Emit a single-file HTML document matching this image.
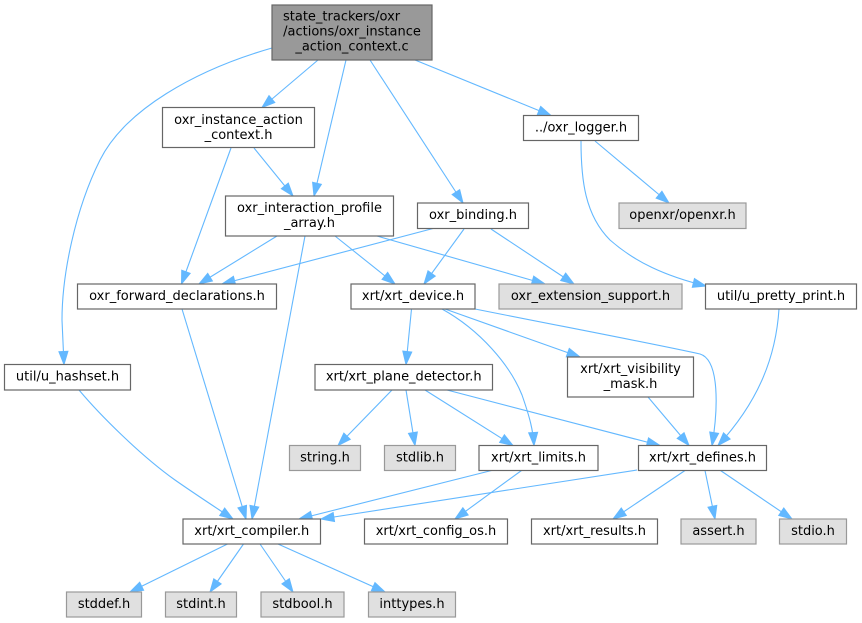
<!DOCTYPE html>
<html>
<head>
<meta charset="utf-8">
<style>
html,body{margin:0;padding:0;background:#fff;}
svg{display:block;}
text{font-family:"DejaVu Sans","Liberation Sans",sans-serif;font-size:13px;fill:#000;}
.e{fill:none;stroke:#63b8ff;stroke-width:1.1;marker-end:url(#ah);}
.w{fill:#fff;stroke:#666;stroke-width:1.2;}
.g{fill:#e0e0e0;stroke:#999;stroke-width:1.2;}
.r{fill:#999;stroke:#666;stroke-width:1.2;}
</style>
</head>
<body>
<svg width="862" height="623" viewBox="0 0 862 623" xmlns="http://www.w3.org/2000/svg">
<defs>
<marker id="ah" markerUnits="userSpaceOnUse" markerWidth="13" markerHeight="9" refX="13" refY="4.5" orient="auto" overflow="visible">
<path d="M0,0 L13,4.5 L0,9 z" fill="#63b8ff" stroke="#63b8ff" stroke-width="1"/>
</marker>
</defs>

<!-- edges -->
<path class="e" d="M318,60 L262,107.5"/>
<path class="e" d="M346,60 L314,196"/>
<path class="e" d="M370,60 L463,203"/>
<path class="e" d="M415,60 L551,115.5"/>
<path class="e" d="M272,48 C195,70 125,110 100,160 C75,210 62,275 62,320 L64,364.5"/>
<path class="e" d="M254,148 L293,196"/>
<path class="e" d="M231,148 L181.5,284"/>
<path class="e" d="M277,236 L199,284"/>
<path class="e" d="M335,236 L395,284"/>
<path class="e" d="M377,236 L545,284"/>
<path class="e" d="M305,236 L252,519"/>
<path class="e" d="M433,228.5 L222,284"/>
<path class="e" d="M464,229 L424,284"/>
<path class="e" d="M491,229 L574,284"/>
<path class="e" d="M595,141 L669,203"/>
<path class="e" d="M581,141 C581,180 585,215 610,240 C635,262 665,276 706,286"/>
<path class="e" d="M182,309 L246,519"/>
<path class="e" d="M79,390 C100,415 140,455 175,480 C195,494 215,507 233,519"/>
<path class="e" d="M411.5,309 L406,364.5"/>
<path class="e" d="M442,309 C480,330 510,365 522,395 C530,418 533,430 534,445.5"/>
<path class="e" d="M445,309 L580,357"/>
<path class="e" d="M475,309 C560,326 650,343 700,354 C720,360 718,410 712,445.5"/>
<path class="e" d="M779,309 C776,355 760,400 718,445.5"/>
<path class="e" d="M648,397 L689,445.5"/>
<path class="e" d="M392,390 L338,445.5"/>
<path class="e" d="M406,390 L415,445.5"/>
<path class="e" d="M425,390 L513,445.5"/>
<path class="e" d="M447,390 L660,445.5"/>
<path class="e" d="M491.5,470.5 L299,519"/>
<path class="e" d="M521.5,470.5 L455,519"/>
<path class="e" d="M637,470 L321,519"/>
<path class="e" d="M685,470.5 L613,519"/>
<path class="e" d="M705,470.5 L715,519"/>
<path class="e" d="M720.5,470.5 L792,519"/>
<path class="e" d="M227.5,544 L130,592"/>
<path class="e" d="M243.5,544 L210,592"/>
<path class="e" d="M260,544 L293,592"/>
<path class="e" d="M278,544 L385,592"/>

<!-- nodes -->
<rect class="r" x="272" y="5" width="160" height="55"/>
<text x="283" y="20.7">state_trackers/oxr</text>
<text x="352" y="35.7" text-anchor="middle">/actions/oxr_instance</text>
<text x="352" y="50.7" text-anchor="middle">_action_context.c</text>

<rect class="w" x="162.5" y="107.5" width="152" height="40"/>
<text x="238.5" y="124" text-anchor="middle">oxr_instance_action</text>
<text x="238.5" y="139" text-anchor="middle">_context.h</text>

<rect class="w" x="225.5" y="196" width="168" height="40"/>
<text x="309.5" y="212" text-anchor="middle">oxr_interaction_profile</text>
<text x="309.5" y="227" text-anchor="middle">_array.h</text>

<rect class="w" x="523.5" y="115.5" width="115" height="25"/>
<text x="581" y="131.5" text-anchor="middle">../oxr_logger.h</text>

<rect class="w" x="417.5" y="203" width="111" height="25.5"/>
<text x="473" y="219" text-anchor="middle">oxr_binding.h</text>

<rect class="g" x="619" y="203" width="127" height="25.5"/>
<text x="682.5" y="219" text-anchor="middle">openxr/openxr.h</text>

<rect class="w" x="77.5" y="284" width="199" height="25"/>
<text x="177" y="300" text-anchor="middle">oxr_forward_declarations.h</text>

<rect class="w" x="351" y="284" width="124" height="25"/>
<text x="413" y="300" text-anchor="middle">xrt/xrt_device.h</text>

<rect class="g" x="499" y="284" width="183" height="25"/>
<text x="590.5" y="300" text-anchor="middle">oxr_extension_support.h</text>

<rect class="w" x="705.5" y="284" width="151" height="25"/>
<text x="781" y="300" text-anchor="middle">util/u_pretty_print.h</text>

<rect class="w" x="4.5" y="364.5" width="126" height="25.5"/>
<text x="67.5" y="380.5" text-anchor="middle">util/u_hashset.h</text>

<rect class="w" x="315" y="364.5" width="177.5" height="25.5"/>
<text x="403.75" y="380.5" text-anchor="middle">xrt/xrt_plane_detector.h</text>

<rect class="w" x="567.5" y="357" width="126" height="40"/>
<text x="630.5" y="373" text-anchor="middle">xrt/xrt_visibility</text>
<text x="630.5" y="388" text-anchor="middle">_mask.h</text>

<rect class="g" x="289.5" y="445.5" width="71" height="25"/>
<text x="325" y="461.5" text-anchor="middle">string.h</text>

<rect class="g" x="384.5" y="445.5" width="71" height="25"/>
<text x="420" y="461.5" text-anchor="middle">stdlib.h</text>

<rect class="w" x="479" y="445.5" width="119" height="25"/>
<text x="538.5" y="461.5" text-anchor="middle">xrt/xrt_limits.h</text>

<rect class="w" x="638.5" y="445.5" width="128" height="25"/>
<text x="702.5" y="461.5" text-anchor="middle">xrt/xrt_defines.h</text>

<rect class="w" x="183" y="519" width="137.5" height="25"/>
<text x="251.75" y="535" text-anchor="middle">xrt/xrt_compiler.h</text>

<rect class="w" x="364.5" y="519" width="143" height="25"/>
<text x="436" y="535" text-anchor="middle">xrt/xrt_config_os.h</text>

<rect class="w" x="531.5" y="519" width="126" height="25"/>
<text x="594.5" y="535" text-anchor="middle">xrt/xrt_results.h</text>

<rect class="g" x="681" y="519" width="75" height="25"/>
<text x="718.5" y="535" text-anchor="middle">assert.h</text>

<rect class="g" x="779.5" y="519" width="67" height="25"/>
<text x="813" y="535" text-anchor="middle">stdio.h</text>

<rect class="g" x="66.5" y="592" width="75" height="25"/>
<text x="104" y="608" text-anchor="middle">stddef.h</text>

<rect class="g" x="165.5" y="592" width="71" height="25"/>
<text x="201" y="608" text-anchor="middle">stdint.h</text>

<rect class="g" x="261" y="592" width="83" height="25"/>
<text x="302.5" y="608" text-anchor="middle">stdbool.h</text>

<rect class="g" x="368.5" y="592" width="87" height="25"/>
<text x="412" y="608" text-anchor="middle">inttypes.h</text>
</svg>
</body>
</html>
